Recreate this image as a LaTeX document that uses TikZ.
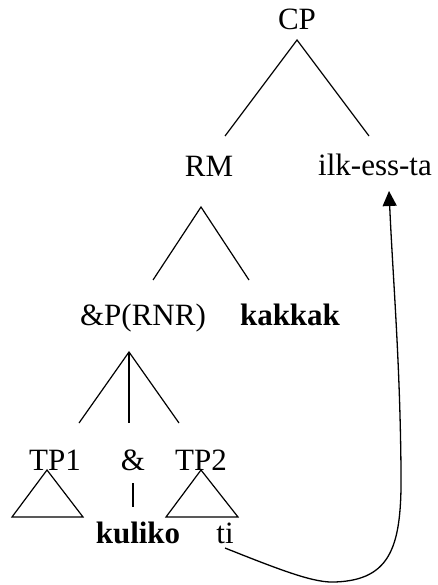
\documentclass[tikz,border=0pt]{standalone}
\usepackage{fontspec}
\setmainfont{Liberation Serif}
\usetikzlibrary{arrows.meta}
\begin{document}
\begin{tikzpicture}[x=1pt,y=-1pt,
  lbl/.style={anchor=base,inner sep=0pt,font=\fontsize{31}{37}\selectfont},
  blbl/.style={lbl,font=\fontsize{31}{37}\selectfont\bfseries},
  edge/.style={line width=1.2pt},
  mv/.style={line width=1.3pt,-{Triangle[length=15pt,width=14pt]}}]
\useasboundingbox (0,0) rectangle (438,585);
% labels
\node[lbl] (cp) at (297,30) {CP};
\node[lbl] (rm) at (209,177) {RM};
\node[lbl] (ilk) at (375,176) {ilk-ess-ta};
\node[lbl] (andp) at (143,325) {\&P(RNR)};
\node[blbl] (kak) at (290,325) {kakkak};
\node[lbl] (tp1) at (55,470) {TP1};
\node[lbl] (amp) at (133,470) {\&};
\node[lbl] (tp2) at (201,470) {TP2};
\node[blbl] (kul) at (138,543) {kuliko};
\node[lbl] (ti) at (225,543) {ti};
% branch points
\coordinate (cpT) at (297,40);
\coordinate (cpL) at (225,136);
\coordinate (cpR) at (369,136);
\coordinate (rmT) at (201,207);
\coordinate (rmL) at (153,280);
\coordinate (rmR) at (249,280);
\coordinate (apT) at (129,352);
\coordinate (apL) at (79,423);
\coordinate (apM) at (129,423);
\coordinate (apR) at (179,423);
\coordinate (ampT) at (133,483);
\coordinate (ampB) at (133,507);
\coordinate (t1T) at (47,470);
\coordinate (t1L) at (12,517);
\coordinate (t1R) at (83,517);
\coordinate (t2T) at (201,470);
\coordinate (t2L) at (166,517);
\coordinate (t2R) at (238,517);
\coordinate (mvS) at (225,548);
\coordinate (mvB) at (335,582);
\coordinate (mvE) at (389,191);
% branches
\draw[edge] (cpL) -- (cpT) -- (cpR);
\draw[edge] (rmL) -- (rmT) -- (rmR);
\draw[edge] (apL) -- (apT) -- (apR);
\draw[edge] (apT) -- (apM);
\draw[edge] (ampT) -- (ampB);
\draw[edge] (t1T) -- (t1L) -- (t1R) -- cycle;
\draw[edge] (t2T) -- (t2L) -- (t2R) -- cycle;
% movement arrow
\draw[mv] (mvS) .. controls (285,572) and (315,583) .. (mvB)
  .. controls (392,580) and (402,545) .. (401,470)
  .. controls (400,360) and (393,280) .. (mvE);
\end{tikzpicture}
\end{document}
